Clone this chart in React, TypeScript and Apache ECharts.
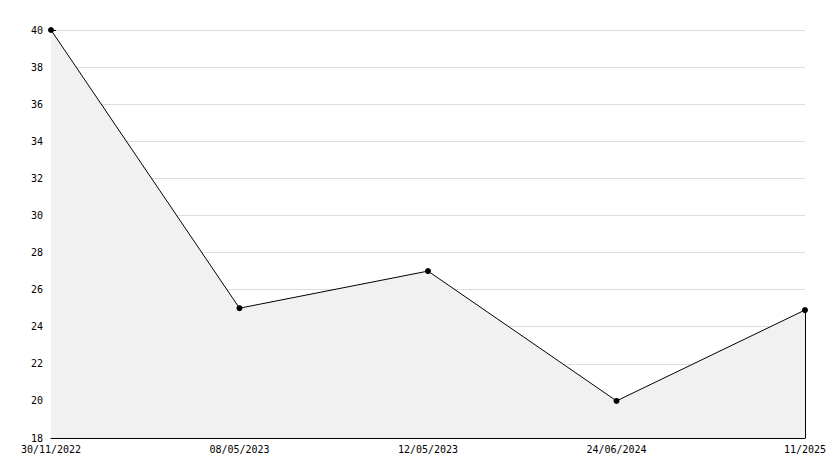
import React, { useEffect, useRef } from "react";
import * as echarts from "echarts";

const categories = ["30/11/2022", "08/05/2023", "12/05/2023", "24/06/2024", "11/2025"];
const values = [40, 25, 27, 20, 24.9];
const yMin = 18;
const yMax = 40;

export default function App() {
  const ref = useRef<HTMLDivElement>(null);
  useEffect(() => {
    const chart = echarts.init(ref.current!, null, { renderer: "svg" });
    const font = "DejaVu Sans Mono";
    chart.setOption({
      animation: false,
      backgroundColor: "#ffffff",
      grid: { left: 51, right: 29, top: 30, bottom: 30, containLabel: false },
      xAxis: {
        type: "category",
        data: categories,
        boundaryGap: false,
        axisLine: { show: true, lineStyle: { color: "#000", width: 1 } },
        axisTick: { show: false },
        axisLabel: { color: "#000", fontFamily: font, fontSize: 10, margin: 6, interval: 0 },
        splitLine: { show: false },
      },
      yAxis: {
        type: "value",
        min: yMin,
        max: yMax,
        interval: 2,
        axisLine: { show: true, lineStyle: { color: "#000", width: 1 } },
        axisTick: { show: true, inside: true, length: 5, lineStyle: { color: "#000" } },
        minorTick: { show: true, splitNumber: 2, length: 3, lineStyle: { color: "#000" } },
        axisLabel: { color: "#000", fontFamily: font, fontSize: 10, margin: 8 },
        splitLine: { show: true, lineStyle: { color: "#dddddd", width: 1 } },
      },
      series: [
        {
          type: "line",
          data: values,
          symbol: "circle",
          symbolSize: 6,
          itemStyle: { color: "#000" },
          lineStyle: { color: "#000", width: 1 },
          areaStyle: { color: "#f1f1f1", opacity: 1, origin: "start" },
          markLine: {
            silent: true,
            symbol: ["none", "none"],
            label: { show: false },
            lineStyle: { color: "#000", width: 1, type: "solid" },
            data: [
              [
                { coord: [categories[categories.length - 1], values[values.length - 1]] },
                { coord: [categories[categories.length - 1], yMin] },
              ],
            ],
          },
        },
      ],
    });
    return () => chart.dispose();
  }, []);
  return <div ref={ref} style={{ width: 834, height: 468, position: "absolute", left: 0, top: 0 }} />;
}
